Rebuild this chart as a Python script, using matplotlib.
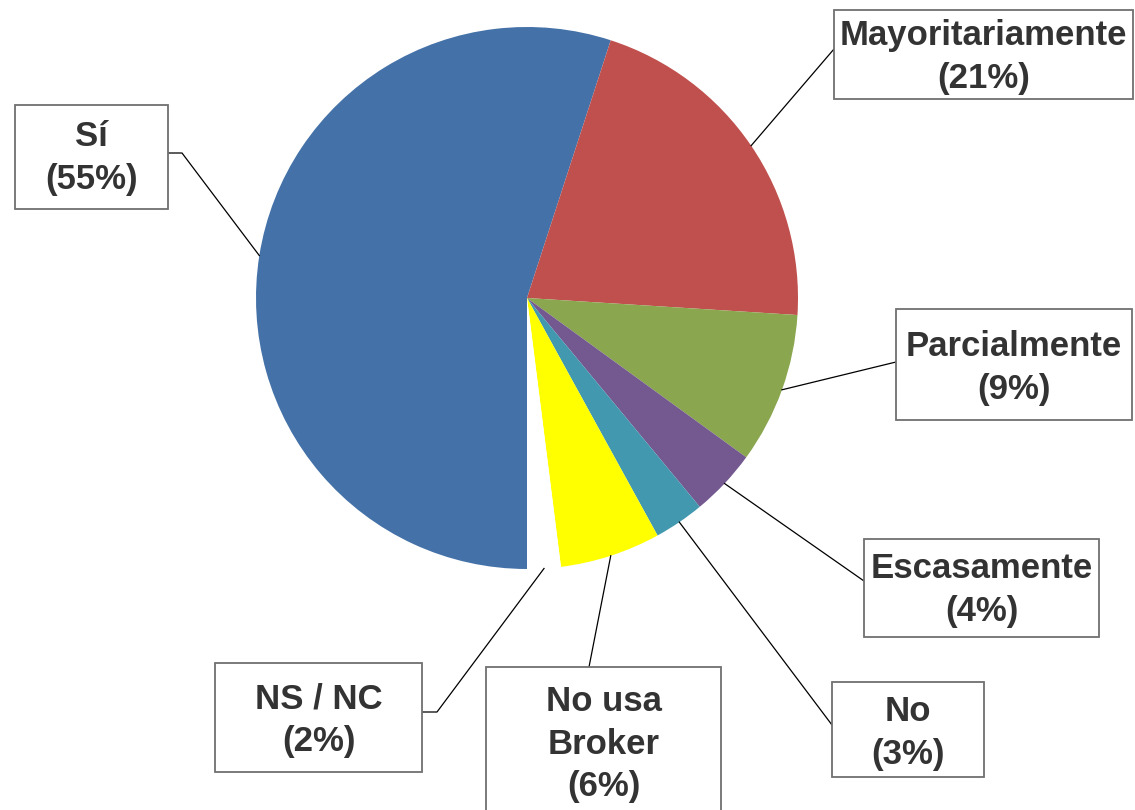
import numpy as np
import matplotlib
matplotlib.use("Agg")
import matplotlib.pyplot as plt
from matplotlib.patches import Rectangle

# Data
labels = ["Sí", "Mayoritariamente", "Parcialmente", "Escasamente", "No", "No usa\nBroker", "NS / NC"]
values = [55, 21, 9, 4, 3, 6, 2]
colors = ["#4472A8", "#C0504D", "#8AA64E", "#73598F", "#4298AF", "#FFFF00", "#FFFFFF"]

# Layout (pixel coords, y down): label boxes (x0, y0, x1, y1) and leader elbows
W, H = 1135, 810
boxes = [
    (15, 105, 168, 209),
    (834, 10, 1133, 99),
    (896, 309, 1132, 420),
    (864, 539, 1099, 637),
    (832, 682, 984, 777),
    (486, 667, 721, 815),
    (215, 663, 422, 772),
]
attach = [(168, 153), (834, 49), (896, 362), (864, 581), (832, 725), (589, 667), (422, 712)]
elbow = [(182, 153), None, None, None, None, None, (437, 712)]
text_y = [158, 57, 368, 590, 733, 744, 720]

CX, CY, R = 527, 298, 271


def py(y):
    return H - y


plt.rcParams['font.family'] = ['Liberation Sans', 'DejaVu Sans']

fig = plt.figure(figsize=(W / 100, H / 100), dpi=100)
ax = fig.add_axes([0, 0, 1, 1])

wedges, _ = ax.pie(values, colors=colors, startangle=270, counterclock=False,
                   center=(CX, py(CY)), radius=R, frame=True,
                   wedgeprops=dict(linewidth=0))

ax.set_xlim(0, W)
ax.set_ylim(0, H)
ax.set_aspect('equal')
ax.axis('off')

for i, w in enumerate(wedges):
    mid = np.deg2rad((w.theta1 + w.theta2) / 2)
    ax_ = CX + R * np.cos(mid)
    ay_ = py(CY) + R * np.sin(mid)
    pts = [attach[i]]
    if elbow[i] is not None:
        pts.append(elbow[i])
    xs = [p[0] for p in pts] + [ax_]
    ys = [py(p[1]) for p in pts] + [ay_]
    ax.plot(xs, ys, color="black", lw=0.9, zorder=3)

    x0, y0, x1, y1 = boxes[i]
    ax.add_patch(Rectangle((x0, py(y1)), x1 - x0, y1 - y0, facecolor="white",
                           edgecolor="#707070", lw=1.3, zorder=4))
    ax.text((x0 + x1) / 2, py(text_y[i]), f"{labels[i]}\n({values[i]}%)",
            ha="center", va="center", fontsize=25, fontweight="bold",
            color="#333333", linespacing=1.38, zorder=5)

fig.savefig("out.png", dpi=100)
